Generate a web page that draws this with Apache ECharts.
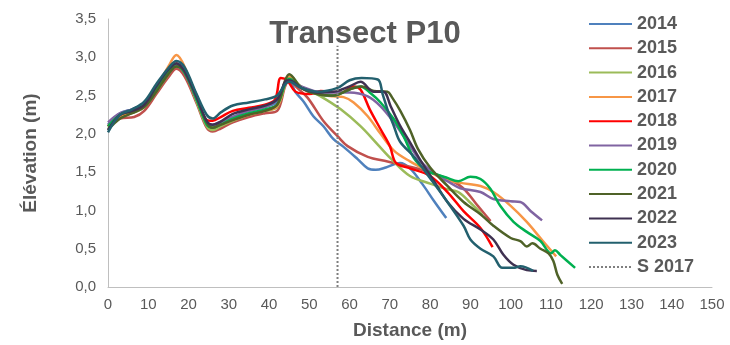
<!DOCTYPE html>
<html>
<head>
<meta charset="utf-8">
<script src="https://cdn.jsdelivr.net/npm/echarts@6/dist/echarts.min.js"></script>
<style>html,body{margin:0;padding:0;background:#fff}#c{width:730px;height:345px}</style>
</head>
<body>
<div id="c"></div>
<script>
const years = ['2014','2015','2016','2017','2018','2019','2020','2021','2022','2023'];
const colors = ['#4F81BD','#C0504D','#9BBB59','#F79646','#FF0000','#8064A2','#00B050','#4F6228','#3F3151','#23606E'];

const d2014 = [[0,2.12],[3,2.27],[6,2.32],[9,2.4],[12,2.62],[15,2.83],[17,2.92],[19,2.82],[22,2.45],[24.5,2.15],[26,2.1],[28,2.15],[31,2.22],[35,2.3],[39,2.35],[42,2.42],[44,2.68],[45,2.7],[46.5,2.55],[48.6,2.42],[51,2.23],[53.5,2.1],[56,1.93],[58.5,1.83],[62,1.67],[64.5,1.55],[66.5,1.53],[69,1.56],[72.5,1.62],[75,1.55],[78,1.35],[81,1.12],[84,0.9]];
const d2015 = [[0,2.1],[3,2.2],[6.5,2.22],[9,2.3],[12,2.52],[15,2.74],[17,2.85],[19,2.75],[22,2.4],[24.5,2.08],[26,2.03],[28,2.07],[31,2.15],[35,2.22],[39,2.27],[42,2.3],[44,2.62],[45,2.7],[47,2.6],[49.6,2.47],[53.6,2.16],[57,1.97],[59.5,1.84],[64.5,1.7],[69.4,1.64],[72.5,1.6],[78,1.53],[84,1.42],[88,1.3],[92,1.05],[95,0.86]];
const d2016 = [[0,2.08],[3,2.22],[6,2.27],[9,2.35],[12,2.55],[15,2.78],[17,2.9],[19,2.8],[22,2.42],[24.5,2.1],[26,2.05],[28,2.1],[31,2.17],[35,2.25],[39,2.3],[42,2.35],[44,2.65],[45,2.77],[47.9,2.62],[52.8,2.49],[57.8,2.32],[62.7,2.1],[67,1.86],[70.2,1.68],[75,1.45],[80,1.35],[84,1.28],[87,1.24],[90,1.1],[93,0.94]];
const d2017 = [[0,2.1],[3,2.23],[6,2.28],[9,2.36],[12,2.6],[15,2.88],[17,3.03],[19,2.88],[22,2.45],[24.5,2.12],[26,2.08],[28,2.12],[31,2.18],[35,2.25],[39,2.3],[42,2.36],[44,2.65],[45,2.75],[48,2.6],[52,2.52],[56,2.49],[58.5,2.48],[61,2.41],[64.5,2.23],[67.7,2.0],[71,1.78],[75,1.64],[80,1.5],[84,1.4],[87.5,1.36],[92.5,1.32],[95.7,1.24],[100,1.06],[104,0.85],[108,0.6],[111.3,0.4]];
const d2018 = [[0,2.1],[3,2.25],[6,2.3],[9,2.37],[12,2.6],[15,2.82],[17,2.92],[19,2.8],[22,2.45],[24.5,2.18],[26,2.17],[28,2.22],[31,2.3],[35,2.34],[39,2.38],[41.5,2.45],[42.9,2.73],[44.5,2.7],[46.6,2.55],[50,2.52],[52.8,2.56],[57.8,2.54],[61,2.62],[62.7,2.58],[65,2.32],[67.7,2.06],[70,1.84],[71.5,1.62],[75,1.55],[80,1.45],[84.3,1.24],[88.3,0.99],[92.5,0.77],[95.5,0.52]];
const d2019 = [[0,2.15],[3,2.27],[6,2.32],[9,2.4],[12,2.62],[15,2.84],[17,2.9],[19,2.8],[22,2.45],[24.5,2.15],[26,2.12],[28,2.16],[31,2.22],[35,2.3],[39,2.35],[42,2.45],[44,2.65],[45,2.7],[48,2.62],[52,2.55],[56,2.54],[60,2.54],[64.5,2.49],[67.7,2.36],[71,2.15],[74.4,1.89],[78,1.62],[82,1.45],[85,1.36],[87.5,1.29],[92.5,1.24],[95.7,1.15],[100,1.12],[102.4,1.11],[105,0.99],[107.8,0.87]];
const d2020 = [[0,2.1],[3,2.25],[6,2.3],[9,2.38],[12,2.6],[15,2.82],[17,2.88],[19,2.8],[22,2.45],[24.5,2.12],[26,2.08],[28,2.12],[31,2.2],[35,2.27],[39,2.32],[42,2.38],[44,2.65],[45,2.72],[48,2.6],[52,2.52],[56,2.5],[60,2.58],[62.7,2.62],[65,2.54],[67.7,2.41],[71,2.19],[73.4,1.97],[76,1.68],[79,1.52],[81,1.48],[84,1.43],[87,1.38],[90,1.44],[92.5,1.41],[95,1.28],[97.4,1.06],[100.7,0.85],[104,0.72],[107.4,0.6],[110,0.44],[111,0.48],[112.3,0.42],[116,0.25]];
const d2021 = [[0,2.05],[3,2.2],[6,2.27],[9,2.35],[12,2.55],[15,2.78],[17,2.88],[19,2.82],[22,2.5],[24.5,2.15],[26,2.08],[28,2.12],[31,2.18],[35,2.25],[39,2.3],[42,2.38],[44,2.7],[45,2.78],[48,2.6],[52,2.52],[56,2.5],[60,2.58],[63,2.62],[66,2.56],[69.4,2.55],[70.5,2.48],[72.6,2.3],[75,2.05],[77,1.8],[80,1.56],[84.3,1.32],[88.3,1.11],[92.5,0.95],[95.7,0.8],[100,0.64],[102.4,0.6],[104,0.53],[105.4,0.57],[107.4,0.5],[109.4,0.44],[110.6,0.34],[111.6,0.16],[112.8,0.04]];
const d2022 = [[0,2.05],[3,2.25],[6,2.3],[9,2.38],[12,2.62],[15,2.84],[17,2.92],[19,2.82],[22,2.48],[24.5,2.17],[26,2.12],[28,2.16],[31,2.26],[35,2.32],[39,2.37],[42,2.45],[44,2.68],[45,2.7],[48,2.6],[52,2.54],[56,2.55],[60,2.62],[62.7,2.68],[66,2.55],[68.4,2.55],[70.2,2.36],[72.6,2.1],[75,1.89],[78,1.62],[81,1.38],[84.3,1.11],[88.3,0.89],[92.5,0.75],[95.7,0.62],[98.2,0.42],[100.7,0.29],[104,0.22],[106.5,0.21]];
const d2023 = [[0,2.02],[3,2.25],[6,2.32],[9,2.42],[12,2.65],[15,2.86],[17,2.95],[19,2.87],[22,2.52],[24.5,2.25],[26,2.2],[28,2.28],[31,2.37],[35,2.41],[39,2.45],[42,2.5],[44,2.65],[45,2.68],[48,2.6],[52,2.55],[57,2.6],[60,2.7],[63,2.73],[67,2.71],[68.2,2.52],[69.4,2.32],[71,2.1],[72.5,1.9],[76,1.7],[80,1.42],[84.3,1.11],[88.3,0.8],[90,0.62],[92.5,0.5],[95.7,0.4],[97.9,0.25],[100.7,0.25],[102.4,0.27],[105.6,0.21]];
const sLineX = 57;
const sLineY = [0, 3.15];
const xTicks = {min: 0, max: 150, interval: 10};
const yTicks = {min: 0, max: 3.5, interval: 0.5};

const allData = [d2014,d2015,d2016,d2017,d2018,d2019,d2020,d2021,d2022,d2023];
const FONT = '"Liberation Sans", Arial, sans-serif';
const TXT = '#595959';

const series = years.map((y, i) => ({
  name: y, type: 'line', data: allData[i], smooth: 0.35, symbol: 'none',
  lineStyle: {color: colors[i], width: 2.5}, itemStyle: {color: colors[i]}
}));
series.push({
  name: 'S 2017', type: 'line', symbol: 'none',
  data: sLineY.map(v => [sLineX, v]),
  lineStyle: {color: '#7f7f7f', width: 2, type: 'dotted'}, itemStyle: {color: '#7f7f7f'}
});

const chart = echarts.init(document.getElementById('c'), null, {renderer: 'canvas'});
chart.setOption({
  animation: false,
  title: {text: 'Transect P10', left: 'center', top: 14,
    textStyle: {fontFamily: FONT, fontSize: 31, fontWeight: 'bold', color: TXT}},
  grid: {left: 108, right: 18, top: 19, bottom: 56},
  legend: {orient: 'vertical', left: 583, top: 10, itemWidth: 43, itemHeight: 14, itemGap: 6.3,
    padding: 5,
    itemStyle: {opacity: 0, borderWidth: 0},
    data: years.concat(['S 2017']),
    textStyle: {fontFamily: FONT, fontSize: 18, fontWeight: 'bold', color: TXT}},
  xAxis: {type: 'value', min: xTicks.min, max: xTicks.max, interval: xTicks.interval,
    name: 'Distance (m)', nameLocation: 'middle', nameGap: 34,
    nameTextStyle: {fontFamily: FONT, fontSize: 19, fontWeight: 'bold', color: TXT},
    axisLine: {show: true, lineStyle: {color: '#bfbfbf', width: 1}},
    axisTick: {show: false}, splitLine: {show: false},
    axisLabel: {fontFamily: FONT, fontSize: 15, color: TXT, margin: 10}},
  yAxis: {type: 'value', min: yTicks.min, max: yTicks.max, interval: yTicks.interval,
    name: 'Élévation (m)', nameLocation: 'middle', nameGap: 68,
    nameTextStyle: {fontFamily: FONT, fontSize: 19, fontWeight: 'bold', color: TXT},
    axisLine: {show: true, lineStyle: {color: '#bfbfbf', width: 1}},
    axisTick: {show: false}, splitLine: {show: false},
    axisLabel: {fontFamily: FONT, fontSize: 15, color: TXT, margin: 12,
      formatter: v => v.toFixed(1).replace('.', ',')}},
  series: series
});
</script>
</body>
</html>
